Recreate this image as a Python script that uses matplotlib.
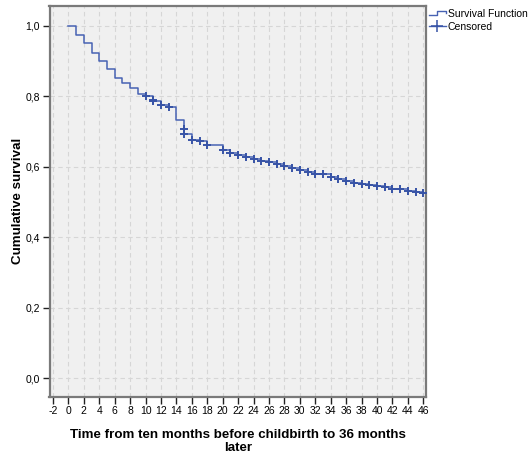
import numpy as np
import matplotlib.pyplot as plt
from matplotlib.legend_handler import HandlerBase
from matplotlib.lines import Line2D

plt.rcParams['font.family'] = ['Liberation Sans', 'DejaVu Sans']

# Kaplan-Meier steps (time in months, survival after step)
times = [0, 1, 2, 3, 4, 5, 6, 7, 8, 9, 10, 11, 12, 13, 14, 15, 16, 17, 18,
         20, 21, 22, 23, 24, 25, 26, 27, 28, 29, 30, 31, 32, 33, 34, 35, 36,
         37, 38, 39, 40, 41, 42, 43, 44, 45, 46]
surv = [1.000, 0.975, 0.951, 0.923, 0.900, 0.877, 0.851, 0.838, 0.822, 0.807,
        0.801, 0.787, 0.775, 0.770, 0.733, 0.692, 0.677, 0.672, 0.661,
        0.646, 0.638, 0.632, 0.628, 0.623, 0.617, 0.613, 0.607, 0.602, 0.596,
        0.591, 0.585, 0.580, 0.578, 0.572, 0.566, 0.559, 0.555, 0.552, 0.549,
        0.546, 0.543, 0.538, 0.536, 0.532, 0.528, 0.524]

# censored observations
cens_t = [10, 11, 11, 12, 13, 15, 15, 16, 17, 18] + list(range(20, 47))
cens_s = [0.801, 0.790, 0.786, 0.775, 0.770, 0.706, 0.692, 0.677, 0.672, 0.661] + surv[19:]

xticks = list(range(-2, 47, 2))
yticks = [0.0, 0.2, 0.4, 0.6, 0.8, 1.0]

line_col = '#4762b3'
mark_col = '#3753a6'


class StepHandler(HandlerBase):
    def create_artists(self, legend, orig_handle, xdescent, ydescent,
                       width, height, fontsize, trans):
        w, h = width, height
        xs = [0, 0.45 * w, 0.45 * w, w, w]
        ys = [0.25 * h, 0.25 * h, 0.85 * h, 0.85 * h, 0.55 * h]
        ln = Line2D(xs, ys, color=line_col, lw=1, transform=trans)
        return [ln]


class CensHandler(HandlerBase):
    def create_artists(self, legend, orig_handle, xdescent, ydescent,
                       width, height, fontsize, trans):
        ln = Line2D([0, width], [0.5 * height] * 2, color=line_col, lw=1, transform=trans)
        mk = Line2D([0.45 * width], [0.5 * height], marker='+', ms=9, mew=1.1,
                    color=mark_col, transform=trans)
        return [ln, mk]


fig = plt.figure(figsize=(5.28, 4.53), dpi=100)
ax = fig.add_axes([49.5 / 528, 1 - 396.5 / 453, (426 - 49.5) / 528, (396.5 - 6) / 453])
ax.set_facecolor('#f0f0f0')

ax.step(times, surv, where='post', color=line_col, lw=1.1, zorder=3)
ax.plot(cens_t, cens_s, ls='none', marker='+', ms=6, mew=1.4, color=mark_col, zorder=4)

ax.set_xlim(-2.45, 46.35)
ax.set_ylim(-0.052, 1.056)
ax.set_xticks(xticks)
ax.set_xticklabels([str(t) for t in xticks])
ax.set_yticks(yticks)
ax.set_yticklabels([f'{v:.1f}'.replace('.', ',') for v in yticks])
ax.tick_params(labelsize=7.5, length=5, width=1, color='#222222', pad=2)
ax.grid(True, ls=(0, (4, 3)), color='#d6d6d6', lw=0.8)
ax.set_axisbelow(True)
for sp in ax.spines.values():
    sp.set_color('#7a7a7a')
    sp.set_linewidth(1.6)

ax.set_ylabel('Cumulative survival', fontsize=9.6, fontweight='bold', labelpad=1)
ax.set_xlabel('Time from ten months before childbirth to 36 months\nlater',
              fontsize=9.6, fontweight='bold', labelpad=9, linespacing=1.1)

h1 = object()
h2 = object()
fig.legend([h1, h2], ['Survival Function', 'Censored'],
           handler_map={h1: StepHandler(), h2: CensHandler()},
           loc='upper left', bbox_to_anchor=(427 / 528, 1 - 7 / 453),
           frameon=False, fontsize=7.5, handlelength=1.6, handletextpad=0.2,
           labelspacing=0.25, borderpad=0.2, borderaxespad=0)

fig.savefig('out.png', dpi=100)
